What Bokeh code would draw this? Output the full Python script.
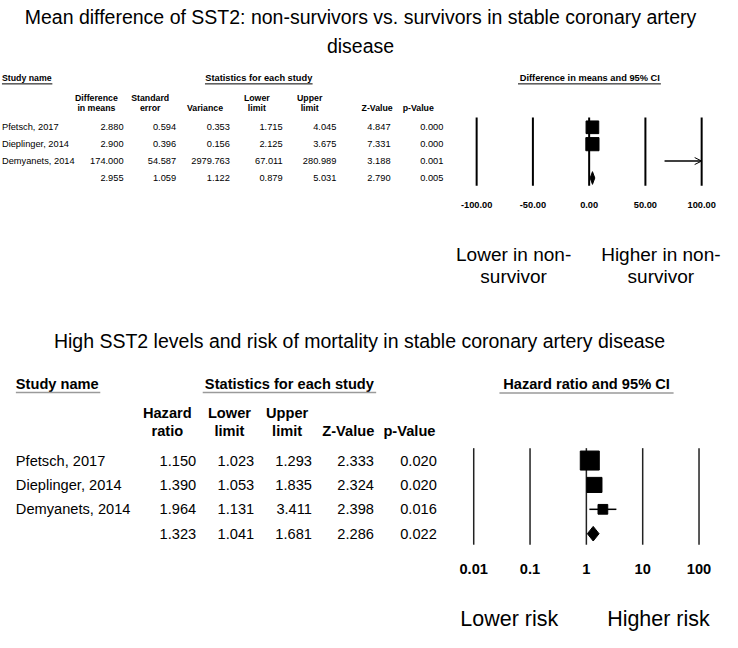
import math
from bokeh.plotting import figure
from bokeh.models import Range1d, LogScale, Arrow, OpenHead
from bokeh.core.properties import value
from bokeh.embed import file_html
from bokeh.resources import INLINE

# ---------------- data ----------------
title_md = ["Mean difference of SST2: non-survivors vs. survivors in stable coronary artery", "disease"]
title_hr = "High SST2 levels and risk of mortality in stable coronary artery disease"

studies = ["Pfetsch, 2017", "Dieplinger, 2014", "Demyanets, 2014"]

md_est = [2.880, 2.900, 174.000]
md_se = [0.594, 0.396, 54.587]
md_var = [0.353, 0.156, 2979.763]
md_lo = [1.715, 2.125, 67.011]
md_hi = [4.045, 3.675, 280.989]
md_z = [4.847, 7.331, 3.188]
md_p = [0.000, 0.000, 0.001]
md_sum = [2.955, 1.059, 1.122, 0.879, 5.031, 2.790, 0.005]  # est, se, var, lo, hi, z, p
md_ticks = [-100, -50, 0, 50, 100]
md_tick_labels = ["-100.00", "-50.00", "0.00", "50.00", "100.00"]
md_headers = [["Difference", "in means"], ["Standard", "error"], ["", "Variance"], ["Lower", "limit"],
              ["Upper", "limit"], ["", "Z-Value"], ["", "p-Value"]]
md_side = [["Lower in non-", "survivor"], ["Higher in non-", "survivor"]]

hr_est = [1.150, 1.390, 1.964]
hr_lo = [1.023, 1.053, 1.131]
hr_hi = [1.293, 1.835, 3.411]
hr_z = [2.333, 2.324, 2.398]
hr_p = [0.020, 0.020, 0.016]
hr_sum = [1.323, 1.041, 1.681, 2.286, 0.022]  # est, lo, hi, z, p
hr_ticks = [0.01, 0.1, 1, 10, 100]
hr_tick_labels = ["0.01", "0.1", "1", "10", "100"]
hr_headers = [["Hazard", "ratio"], ["Lower", "limit"], ["Upper", "limit"], ["", "Z-Value"], ["", "p-Value"]]
hr_side = ["Lower risk", "Higher risk"]

# ---------------- layout (reference pixels, drawn on a 722x632 canvas) ----------------
FONT = "Liberation Sans"
X0, X1, Y0, Y1 = 0, 738, 0, 648
PW, PH = 722, 632
S = min(PW / (X1 - X0), PH / (Y1 - Y0))

md_px = (486.7, 716.7)
hr_px = (483.7, 714.0)

md_rows_y = [130.0, 147.3, 164.6, 182.0]
hr_rows_y = [471.7, 496.7, 521.7, 546.7]
md_col_right = [125.8, 179.5, 234.5, 288.4, 343.3, 398.7, 452.7]
md_col_center = [98, 153, 209, 262, 316, 385, 427]
hr_col_right = [200.0, 259.3, 318.3, 381.7, 446.0]
hr_col_center = [170.5, 234, 293, 355.5, 418]
md_box = [13, 13.5]
hr_box = [19.5, 15.5, 10]

p = figure(width=PW, height=PH, x_range=Range1d(X0, X1), y_range=Range1d(Y1, Y0),
           x_axis_type=None, y_axis_type=None, output_backend="svg", toolbar_location=None,
           min_border=0)
p.outline_line_color = None
p.background_fill_color = "white"
p.border_fill_color = "white"

k = (md_px[1] - md_px[0]) / (md_ticks[-1] - md_ticks[0])
md_range = Range1d(md_ticks[0] - (md_px[0] - X0) / k, md_ticks[-1] + (X1 - md_px[1]) / k)
lg0, lg1 = math.log10(hr_ticks[0]), math.log10(hr_ticks[-1])
lk = (hr_px[1] - hr_px[0]) / (lg1 - lg0)
hr_range = Range1d(10 ** (lg0 - (hr_px[0] - X0) / lk), 10 ** (lg1 + (X1 - hr_px[1]) / lk))
p.extra_x_ranges = {"md": md_range, "hr": hr_range}
p.extra_x_scales = {"hr": LogScale()}


def txt(x, y, s, size, align="left", bold=False, xr="default", color="black"):
    if not isinstance(x, list):
        x, y, s = [x], [y], [s]
    p.text(x=x, y=y, text=s, text_font=value(FONT), text_font_size=value(f"{size * S:.2f}px"),
           text_font_style="bold" if bold else "normal", text_align=align,
           text_baseline="middle", text_color=color, x_range_name=xr)


def uline(xa, xb, y, color="black", w=1):
    p.segment(x0=[xa], y0=[y], x1=[xb], y1=[y], line_color=color, line_width=w)


# ---------------- top panel ----------------
txt(368, 17, title_md[0], 20, "center")
txt(368, 47, title_md[1], 20, "center")

txt(1.5, 79.5, "Study name", 9, "left", True)
uline(1.5, 53, 85.5)
txt(264, 79.5, "Statistics for each study", 9.5, "center", True)
uline(209, 319, 85.5)
txt(602.3, 79.5, "Difference in means and 95% CI", 9.5, "center", True)
uline(529, 675, 85.5)

for (l1, l2), cx in zip(md_headers, md_col_center):
    if l1:
        txt(cx, 99.5, l1, 9, "center", True)
    txt(cx, 110, l2, 9, "center", True)

md_cols = [md_est, md_se, md_var, md_lo, md_hi, md_z, md_p]
for i, name in enumerate(studies):
    txt(1.5, md_rows_y[i], name, 9.5)
    for col, rx in zip(md_cols, md_col_right):
        txt(rx, md_rows_y[i], f"{col[i]:.3f}", 9.5, "right")
for v, rx in zip(md_sum, md_col_right):
    txt(rx, md_rows_y[3], f"{v:.3f}", 9.5, "right")

p.segment(x0=md_ticks, y0=[120] * 5, x1=md_ticks, y1=[190] * 5, line_color="black",
          line_width=2, x_range_name="md")
tmin, tmax = md_ticks[0], md_ticks[-1]
for i in range(len(studies)):
    y = md_rows_y[i]
    a, b = max(md_lo[i], tmin), min(md_hi[i], tmax)
    if md_hi[i] > tmax:
        p.add_layout(Arrow(end=OpenHead(size=7, line_width=1), x_start=a, y_start=y, x_end=b, y_end=y,
                           line_width=1.5, x_range_name="md"))
    else:
        p.segment(x0=[a], y0=[y], x1=[b], y1=[y], line_color="black", line_width=1.5, x_range_name="md")
    if tmin <= md_est[i] <= tmax:
        p.rect(x=[md_est[i]], y=[y], width=md_box[i] * S, height=md_box[i] * S, width_units="screen",
               height_units="screen", fill_color="black", line_color="black", x_range_name="md")
ys = md_rows_y[3]
p.patch(x=[md_sum[3], md_sum[0], md_sum[4], md_sum[0]], y=[ys, ys - 6.5, ys, ys + 6.5],
        fill_color="black", line_color="black", x_range_name="md")
txt(md_ticks, [210] * 5, md_tick_labels, 9.5, "center", True, xr="md")

txt(524.5, 260, md_side[0][0], 19.5, "center")
txt(524.5, 283.3, md_side[0][1], 19.5, "center")
txt(675, 260, md_side[1][0], 19.5, "center")
txt(675, 283.3, md_side[1][1], 19.5, "center")

# ---------------- bottom panel ----------------
txt(367, 349, title_hr, 20, "center")

txt(15.7, 392.7, "Study name", 15, "left", True)
uline(15.7, 102, 402, "#9a9a9a", 1.5)
txt(295.3, 392.7, "Statistics for each study", 15, "center", True)
uline(206.7, 384, 402, "#9a9a9a", 1.5)
txt(599, 393.3, "Hazard ratio and 95% CI", 15, "center", True)
uline(510, 688, 402.5, "#9a9a9a", 1.5)

for (l1, l2), cx in zip(hr_headers, hr_col_center):
    if l1:
        txt(cx, 423.3, l1, 15, "center", True)
    txt(cx, 441, l2, 15, "center", True)

hr_cols = [hr_est, hr_lo, hr_hi, hr_z, hr_p]
for i, name in enumerate(studies):
    txt(15.7, hr_rows_y[i], name, 15)
    for col, rx in zip(hr_cols, hr_col_right):
        txt(rx, hr_rows_y[i], f"{col[i]:.3f}", 15, "right")
for v, rx in zip(hr_sum, hr_col_right):
    txt(rx, hr_rows_y[3], f"{v:.3f}", 15, "right")

p.segment(x0=hr_ticks, y0=[459] * 5, x1=hr_ticks, y1=[558] * 5, line_color="#222222",
          line_width=1.5, x_range_name="hr")
for i in range(len(studies)):
    y = hr_rows_y[i]
    p.segment(x0=[hr_lo[i]], y0=[y], x1=[hr_hi[i]], y1=[y], line_color="black", line_width=1.5,
              x_range_name="hr")
    p.rect(x=[hr_est[i]], y=[y], width=hr_box[i] * S, height=hr_box[i] * S, width_units="screen",
           height_units="screen", fill_color="black", line_color="black", x_range_name="hr")
ys = hr_rows_y[3]
p.patch(x=[hr_sum[1], hr_sum[0], hr_sum[2], hr_sum[0]], y=[ys, ys - 7.5, ys, ys + 7.5],
        fill_color="black", line_color="black", x_range_name="hr")
txt(hr_ticks, [583.3] * 5, hr_tick_labels, 15, "center", True, xr="hr")

txt(520, 634, hr_side[0], 22, "center")
txt(672.5, 634, hr_side[1], 22, "center")

open("out.html", "w").write(file_html(p, INLINE))
